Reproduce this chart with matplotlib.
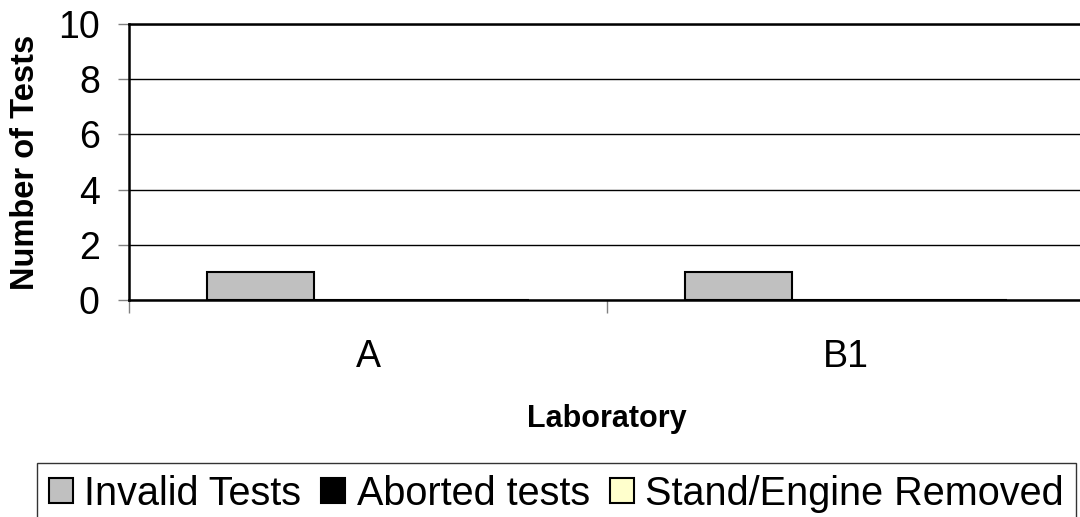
import matplotlib
matplotlib.use("Agg")
import matplotlib.pyplot as plt
import numpy as np

labs = ["A", "B1"]
series_names = ["Invalid Tests", "Aborted tests", "Stand/Engine Removed"]
invalid = [1, 1]
aborted = [0, 0]
removed = [0, 0]
colors = ["#C0C0C0", "#000000", "#FFFFCC"]

plt.rcParams["font.family"] = ["Liberation Sans", "DejaVu Sans"]

fig = plt.figure(figsize=(10.8, 5.17), dpi=100)
ax = fig.add_axes([129 / 1080, 1 - 300 / 517, 956 / 1080, 276 / 517])

centers = np.arange(len(labs)) + 0.5
w = 0.224
for i, (vals, name) in enumerate(zip([invalid, aborted, removed], series_names)):
    ax.bar(centers + (i - 1) * w, vals, width=w, color=colors[i],
           edgecolor="black", linewidth=1.5, label=name, zorder=3)

ax.set_xlim(0, len(labs))
ax.set_ylim(0, 10)
ax.set_yticks(range(0, 11, 2))
ax.tick_params(axis="y", labelsize=27, length=8, width=1, color="#808080", pad=13)
ax.set_xticks(range(len(labs) + 1))
ax.set_xticklabels([])
ax.tick_params(axis="x", which="major", length=9, width=1, color="#808080")
ax.set_xticks(centers, minor=True)
ax.set_xticklabels(labs, minor=True)
ax.tick_params(axis="x", which="minor", length=0, labelsize=27, pad=28)

ax.grid(axis="y", color="black", linewidth=1, zorder=0)
for s in ["left", "bottom", "top"]:
    ax.spines[s].set_linewidth(1.8)
ax.spines["right"].set_visible(False)

ax.set_xlabel("Laboratory", fontsize=22, fontweight="bold", labelpad=21)
ax.set_ylabel("Number of Tests", fontsize=23.5, fontweight="bold", labelpad=12)

fig.legend(loc="upper left", bbox_to_anchor=(37 / 1080, 1 - 463 / 517), ncol=3,
           fontsize=28.5, frameon=True, fancybox=False, edgecolor="black",
           handlelength=0.6, handleheight=0.6, handletextpad=0.3,
           columnspacing=0.5, borderpad=0.3, borderaxespad=0)

fig.savefig("out.png", dpi=100)
